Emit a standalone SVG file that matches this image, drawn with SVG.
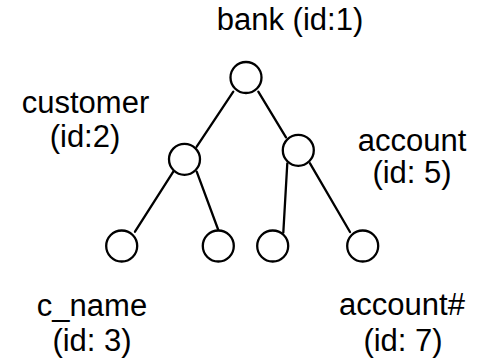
<svg xmlns="http://www.w3.org/2000/svg" width="480" height="363" viewBox="0 0 480 363">
  <style>
    .node circle { fill: #ffffff; stroke: #000000; stroke-width: 2.3; }
    .edges line { stroke: #000000; stroke-width: 2.3; stroke-linecap: round; }
    text { font-family: "Liberation Sans", Arial, sans-serif; font-size: 31px; fill: #000000; text-anchor: middle; }
  </style>
  <rect width="480" height="363" fill="#ffffff"/>

  <!-- connectors -->
  <g id="edges" class="edges">
    <line x1="233.3" y1="91.7" x2="196.7" y2="146.7"/>
    <line x1="258.3" y1="91.7" x2="286" y2="137.3"/>
    <line x1="173.3" y1="171.7" x2="135" y2="231.7"/>
    <line x1="196.7" y1="171.7" x2="218.3" y2="230"/>
    <line x1="287.3" y1="163.3" x2="283.3" y2="232.7"/>
    <line x1="310" y1="163.3" x2="350" y2="232"/>
  </g>

  <!-- bank (id:1) -->
  <g id="node-bank" class="node">
    <circle cx="246" cy="77.5" r="15.5"/>
    <text x="290" y="30">bank (id:1)</text>
  </g>

  <!-- customer (id:2) -->
  <g id="node-customer" class="node">
    <circle cx="184.5" cy="159.3" r="15.5"/>
    <text x="85.5" y="113">customer</text>
    <text x="85" y="147">(id:2)</text>
  </g>

  <!-- c_name (id: 3) -->
  <g id="node-c_name" class="node">
    <circle cx="121.7" cy="246" r="15.5"/>
    <text x="92" y="316">c_name</text>
    <text x="92" y="351">(id: 3)</text>
  </g>

  <!-- unlabelled customer child -->
  <g id="node-customer-child" class="node">
    <circle cx="218.3" cy="246" r="15.5"/>
  </g>

  <!-- account (id: 5) -->
  <g id="node-account" class="node">
    <circle cx="298.3" cy="150.3" r="15.5"/>
    <text x="412" y="151">account</text>
    <text x="412" y="183">(id: 5)</text>
  </g>

  <!-- unlabelled account child -->
  <g id="node-account-child" class="node">
    <circle cx="272.7" cy="246" r="15.5"/>
  </g>

  <!-- account# (id: 7) -->
  <g id="node-account-number" class="node">
    <circle cx="362.7" cy="246" r="15.5"/>
    <text x="402" y="315">account#</text>
    <text x="403" y="351">(id: 7)</text>
  </g>
</svg>
